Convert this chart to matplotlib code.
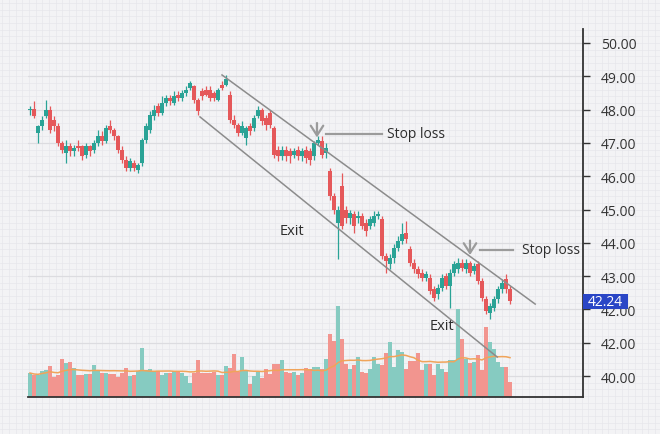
import matplotlib.pyplot as plt
import matplotlib.patches as mpatches
import matplotlib.transforms as mtransforms
import numpy as np
import pandas as pd

plt.rcParams['font.family'] = ['Open Sans', 'DejaVu Sans']

# candle data (one candle per session)
opens = [47.98, 48.02, 47.30, 47.50, 47.80, 48.00, 47.70, 47.50, 47.00, 46.70,
         46.90, 46.75, 46.90, 46.90, 46.65, 46.90, 46.80, 47.00, 47.20, 47.05,
         47.50, 47.40, 47.20, 46.80, 46.50, 46.25, 46.40, 46.20, 46.40, 47.10,
         47.40, 47.80, 48.10, 47.90, 48.20, 48.35, 48.20, 48.45, 48.35, 48.50,
         48.65, 48.70, 48.30, 48.55, 48.60, 48.60, 48.50, 48.30, 48.75, 48.75,
         48.45, 47.70, 47.55, 47.30, 47.15, 47.50, 47.45, 47.80, 48.00, 47.75,
         47.90, 47.45, 46.80, 46.60, 46.80, 46.75, 46.65, 46.80, 46.60, 46.80,
         46.75, 46.60, 47.00, 47.05, 46.70, 46.15, 45.40, 44.60, 45.70, 45.00,
         44.75, 44.85, 44.75, 44.80, 44.60, 44.50, 44.60, 44.80, 44.70, 43.60,
         43.35, 43.55, 43.85, 44.05, 44.30, 43.80, 43.40, 43.20, 43.10, 42.95,
         42.95, 42.60, 42.45, 42.65, 43.00, 42.70, 43.10, 43.20, 43.40, 43.20,
         43.40, 43.15, 43.35, 42.85, 42.30, 41.90, 42.05, 42.30, 42.60, 42.90,
         42.60]
closes = [48.02, 47.80, 47.50, 47.70, 48.00, 47.40, 47.50, 47.00, 46.80, 46.90,
          46.75, 46.85, 46.85, 46.60, 46.90, 46.75, 47.00, 47.20, 47.05, 47.45,
          47.40, 47.20, 46.80, 46.50, 46.25, 46.45, 46.25, 46.35, 47.10, 47.50,
          47.85, 48.00, 47.90, 48.20, 48.35, 48.25, 48.40, 48.35, 48.50, 48.60,
          48.80, 48.30, 47.95, 48.40, 48.45, 48.35, 48.35, 48.60, 48.65, 48.92,
          47.70, 47.55, 47.30, 47.50, 47.45, 47.35, 47.75, 48.00, 47.65, 47.55,
          47.55, 46.65, 46.60, 46.80, 46.60, 46.60, 46.75, 46.60, 46.75, 46.55,
          46.50, 47.00, 47.10, 46.65, 46.85, 45.40, 45.00, 45.00, 44.50, 44.75,
          44.90, 44.50, 44.80, 44.50, 44.35, 44.70, 44.80, 44.85, 43.60, 43.45,
          43.55, 43.85, 44.05, 44.25, 44.10, 43.40, 43.20, 43.05, 42.95, 43.05,
          42.55, 42.35, 42.65, 42.95, 42.70, 43.10, 43.35, 43.40, 43.25, 43.40,
          43.10, 43.30, 42.85, 42.35, 41.95, 42.10, 42.30, 42.60, 42.80, 42.60,
          42.24]
highs = [48.12, 48.25, 47.55, 47.80, 48.30, 48.10, 47.80, 47.60, 47.05, 47.10,
         47.00, 46.95, 47.10, 46.95, 47.00, 46.95, 47.10, 47.40, 47.35, 47.55,
         47.70, 47.45, 47.25, 46.90, 46.60, 46.55, 46.50, 46.40, 47.15, 47.60,
         47.95, 48.15, 48.20, 48.40, 48.45, 48.45, 48.55, 48.55, 48.60, 48.70,
         48.85, 48.75, 48.35, 48.65, 48.70, 48.70, 48.55, 48.65, 48.85, 49.05,
         48.55, 47.85, 47.60, 47.65, 47.50, 47.60, 47.85, 48.10, 48.05, 47.85,
         48.00, 47.50, 46.90, 46.90, 46.90, 46.85, 46.85, 46.90, 46.85, 46.90,
         46.85, 47.05, 47.20, 47.20, 47.00, 46.25, 45.50, 45.10, 46.10, 45.10,
         45.00, 44.95, 44.95, 44.90, 44.70, 44.80, 44.95, 44.95, 44.80, 43.70,
         43.65, 43.95, 44.20, 44.60, 44.65, 43.90, 43.50, 43.30, 43.20, 43.15,
         43.05, 42.70, 42.75, 43.05, 43.10, 43.20, 43.45, 43.55, 43.50, 43.50,
         43.45, 43.40, 43.45, 42.95, 42.40, 42.20, 42.40, 42.70, 42.90, 43.05,
         42.70]
lows = [47.85, 47.75, 47.00, 47.40, 47.75, 47.30, 47.35, 46.90, 46.70, 46.40,
        46.60, 46.60, 46.75, 46.50, 46.55, 46.60, 46.70, 46.90, 46.95, 47.00,
        47.30, 47.10, 46.70, 46.40, 46.15, 46.15, 46.15, 46.10, 46.30, 47.00,
        47.30, 47.70, 47.80, 47.85, 48.10, 48.15, 48.15, 48.25, 48.25, 48.40,
        48.60, 48.20, 47.85, 48.30, 48.40, 48.25, 48.25, 48.25, 48.60, 48.70,
        47.60, 47.45, 47.20, 47.25, 46.95, 47.25, 47.35, 47.75, 47.55, 47.40,
        47.45, 46.55, 46.45, 46.50, 46.45, 46.40, 46.55, 46.50, 46.45, 46.40,
        46.35, 46.50, 46.95, 46.55, 46.55, 45.30, 44.85, 43.50, 44.40, 44.60,
        44.55, 44.30, 44.60, 44.40, 44.20, 44.40, 44.50, 44.70, 43.50, 43.10,
        43.20, 43.40, 43.75, 43.95, 44.00, 43.30, 43.10, 42.95, 42.85, 42.85,
        42.45, 42.25, 42.30, 42.55, 42.60, 42.05, 43.00, 43.10, 43.15, 43.10,
        43.00, 43.05, 42.75, 42.25, 41.85, 41.70, 41.95, 42.20, 42.50, 42.50,
        42.15]
volumes = [24, 22, 22, 26, 27, 31, 20, 22, 38, 34, 35, 29, 22, 22, 23, 23, 32, 26, 24, 24,
           23, 23, 20, 24, 29, 21, 22, 26, 49, 27, 28, 26, 26, 22, 24, 24, 26, 26, 24, 21,
           14, 24, 37, 24, 24, 24, 25, 22, 22, 31, 29, 43, 25, 40, 26, 13, 21, 26, 19, 28,
           23, 33, 33, 37, 25, 24, 25, 22, 24, 29, 28, 30, 30, 28, 38, 63, 56, 91, 58, 33,
           28, 32, 40, 25, 24, 28, 40, 33, 32, 44, 55, 30, 47, 45, 28, 36, 36, 44, 27, 33,
           33, 22, 33, 28, 25, 37, 37, 88, 58, 38, 34, 35, 42, 27, 70, 55, 48, 35, 30, 30,
           15]

price_ticks = [50, 49, 48, 47, 46, 45, 44, 43, 42, 41, 40]
price_labels = ['50.00', '49.00', '48.00', '47.00', '46.00', '45.00', '44.00',
                '43.00', '42.00', '42.00', '40.00']
last_price = 42.24

# trend channel (start, end) in (session, price)
upper_channel = ([48.0, 126.3], [49.04, 42.16])
lower_channel = ([42.5, 116.8], [47.78, 40.57])

up_col = '#2aa396'
down_col = '#e5585a'
vol_up = '#86cbc1'
vol_down = '#f2958f'

x = np.arange(len(closes))
o = np.array(opens)
c = np.array(closes)
rising = c >= o

fig = plt.figure(figsize=(6.6, 4.35), dpi=100, facecolor='#f3f3f5')

# graph paper background
bg = fig.add_axes([0, 0, 1, 1])
bg.set_xlim(0, 660)
bg.set_ylim(435, 0)
bg.axis('off')
for gx in np.arange(2.4, 660, 6.66):
    bg.axvline(gx, color='#e7e7eb', lw=0.5)
for gy in np.arange(4.04, 435, 6.66):
    bg.axhline(gy, color='#e7e7eb', lw=0.5)

rect = [28 / 660, 37 / 435, 555 / 660, 368 / 435]

# volume panel (below the price panel)
vax = fig.add_axes(rect, zorder=1)
vax.patch.set_visible(False)
vax.set_xlim(-0.5, 138.25)
vax.set_ylim(0, 368)
vax.axis('off')

ax = fig.add_axes(rect, zorder=2)
ax.patch.set_visible(False)
ax.set_xlim(-0.5, 138.25)
ax.set_ylim(39.37, 50.42)

# price grid lines, drawn on the volume axes so the bars cover them
for p in price_ticks:
    vax.plot([0, 1], [p, p], transform=ax.get_yaxis_transform(),
             color='#dcdce0', lw=0.9, zorder=0)

vax.bar(x, volumes, width=1.0, color=np.where(rising, vol_up, vol_down), zorder=2)
ma = pd.Series(volumes).rolling(20, min_periods=1).mean()
vax.plot(x, ma, color='#f0a45a', lw=1.1, zorder=3)

# candles
cols = np.where(rising, up_col, down_col)
ax.vlines(x, lows, highs, colors=cols, lw=0.9, zorder=3)
body_lo = np.minimum(o, c)
body_h = np.maximum(np.abs(c - o), 0.03)
ax.bar(x, body_h, bottom=body_lo, width=0.8, color=cols, zorder=4)

# channel
ax.plot(*upper_channel, color='#8c8c8c', lw=1.1, zorder=5)
ax.plot(*lower_channel, color='#8c8c8c', lw=1.1, zorder=5)

# stop loss markers
arrow_kw = dict(arrowstyle='->,head_length=0.7,head_width=0.45', color='#9b9b9b', lw=1.6)
ax.annotate('', xy=(71.75, 47.08), xytext=(71.75, 47.68), arrowprops=arrow_kw, zorder=6)
ax.plot([74, 88], [47.27, 47.27], color='#9b9b9b', lw=1.6, zorder=6)
ax.text(89.3, 47.29, 'Stop loss', fontsize=10, color='#2e2e2e', va='center', ha='left')

ax.annotate('', xy=(110, 43.55), xytext=(110, 44.15), arrowprops=arrow_kw, zorder=6)
ax.plot([112.5, 120.8], [43.79, 43.79], color='#9b9b9b', lw=1.6, zorder=6)
ax.text(123, 43.81, 'Stop loss', fontsize=10, color='#2e2e2e', va='center', ha='left')

ax.text(62.5, 44.37, 'Exit', fontsize=10.5, color='#2e2e2e', va='center', ha='left')
ax.text(100, 41.52, 'Exit', fontsize=10.5, color='#2e2e2e', va='center', ha='left')

# axes styling
for side in ['top', 'left']:
    ax.spines[side].set_visible(False)
for side in ['right', 'bottom']:
    ax.spines[side].set_color('#333333')
    ax.spines[side].set_linewidth(1.3)
ax.set_xticks([])
ax.yaxis.tick_right()
ax.set_yticks(price_ticks)
ax.set_yticklabels(price_labels)
ax.tick_params(axis='y', length=5, width=1, color='#333333', pad=8,
               labelsize=10, labelcolor='#333333')

# last price tag
trans = mtransforms.blended_transform_factory(ax.transAxes, ax.transData)
ax.add_patch(mpatches.Rectangle((1.0, last_price - 0.235), 45 / 555, 0.47,
                                transform=trans, clip_on=False,
                                facecolor='#2a46c6', edgecolor='none', zorder=10))
ax.text(1.0 + 22.5 / 555, last_price, f'{last_price:.2f}', transform=trans,
        ha='center', va='center', color='white', fontsize=10, zorder=11)

fig.savefig('out.png', dpi=100, facecolor=fig.get_facecolor())
